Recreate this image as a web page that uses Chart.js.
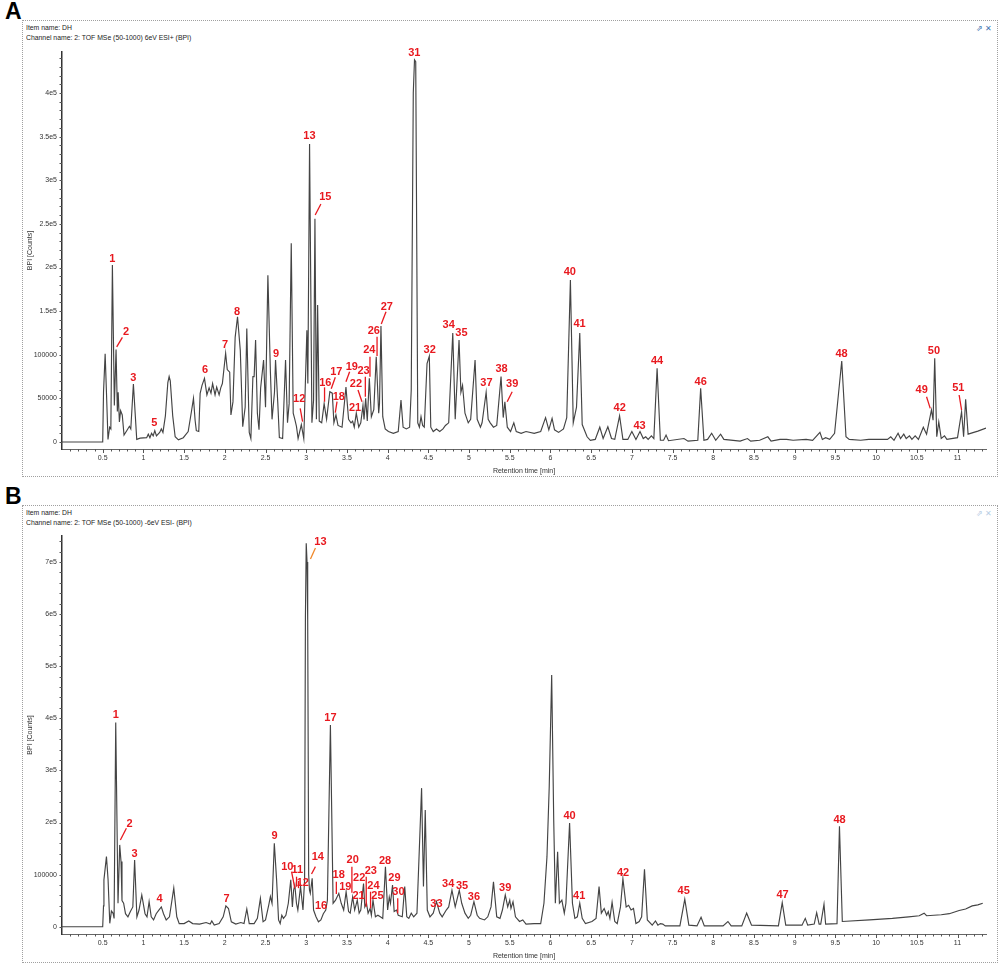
<!DOCTYPE html>
<html><head><meta charset="utf-8">
<script src="https://cdn.jsdelivr.net/npm/chart.js@4.4.1/dist/chart.umd.min.js"></script>
<style>
body{margin:0;background:#fff;width:999px;height:963px;position:relative;overflow:hidden;font-family:"Liberation Sans",Arial,sans-serif;}
.frame{position:absolute;border:1px dotted #a0a0a0;box-sizing:border-box;}
.big{position:absolute;font:bold 23px "Liberation Sans",Arial,sans-serif;color:#000;line-height:23px;}
.hdr{position:absolute;font-size:7.6px;color:#222;line-height:10px;white-space:nowrap;transform:scaleX(0.9);transform-origin:left top;}
.ico{position:absolute;font-size:8px;white-space:nowrap;}
canvas{position:absolute;left:0;}
</style></head><body>
<div class="frame" style="left:22px;top:20px;width:976px;height:457px;"></div>
<div class="frame" style="left:22px;top:505px;width:976px;height:458px;"></div>
<div class="big" style="left:5px;top:0px;">A</div>
<div class="big" style="left:5px;top:485px;">B</div>
<div class="hdr" style="left:26px;top:23px;">Item name: DH<br>Channel name: 2: TOF MSe (50-1000) 6eV ESI+ (BPI)</div>
<div class="hdr" style="left:26px;top:508px;">Item name: DH<br>Channel name: 2: TOF MSe (50-1000) -6eV ESI- (BPI)</div>
<div class="ico" style="left:976px;top:24px;color:#3f74b0;">&#x21d7; &#x2715;</div>
<div class="ico" style="left:976px;top:509px;color:#b7cde4;">&#x21d7; &#x2715;</div>
<canvas id="cA" width="999" height="480" style="top:0px;"></canvas>
<canvas id="cB" width="999" height="478" style="top:485px;"></canvas>
<script>
// ---------- shared axis ticks ----------
const xTickVals = [0.5,1,1.5,2,2.5,3,3.5,4,4.5,5,5.5,6,6.5,7,7.5,8,8.5,9,9.5,10,10.5,11];

// ---------- Panel A: ESI+ ----------
const rtA = [0,0.5,0.51,0.53,0.545,0.565,0.585,0.6,0.619,0.643,0.664,0.68,0.69,0.705,0.72,0.74,0.762,0.795,0.828,0.845,0.877,0.918,0.96,1.04,1.06,1.08,1.10,1.12,1.14,1.16,1.20,1.22,1.24,1.27,1.30,1.316,1.33,1.36,1.39,1.43,1.49,1.55,1.59,1.615,1.635,1.65,1.68,1.697,1.72,1.75,1.78,1.807,1.83,1.85,1.88,1.90,1.93,1.95,1.97,2.01,2.03,2.06,2.075,2.10,2.127,2.156,2.19,2.22,2.25,2.27,2.30,2.32,2.345,2.36,2.378,2.40,2.42,2.44,2.476,2.50,2.529,2.56,2.58,2.61,2.623,2.65,2.67,2.71,2.746,2.77,2.79,2.816,2.84,2.86,2.88,2.90,2.94,2.97,3.008,3.02,3.041,3.07,3.09,3.107,3.125,3.14,3.16,3.19,3.22,3.25,3.29,3.32,3.34,3.365,3.39,3.44,3.488,3.52,3.55,3.57,3.59,3.615,3.645,3.67,3.697,3.71,3.73,3.75,3.775,3.80,3.83,3.86,3.89,3.90,3.918,3.94,3.97,4.01,4.07,4.13,4.164,4.19,4.23,4.27,4.29,4.315,4.33,4.345,4.37,4.39,4.41,4.43,4.45,4.484,4.512,4.53,4.56,4.60,4.64,4.68,4.71,4.75,4.80,4.83,4.877,4.90,4.92,4.95,4.99,5.02,5.074,5.10,5.14,5.16,5.21,5.235,5.26,5.30,5.34,5.393,5.42,5.44,5.47,5.51,5.55,5.58,5.64,5.70,5.80,5.88,5.94,5.98,6.02,6.05,6.10,6.16,6.20,6.245,6.28,6.32,6.36,6.39,6.45,6.49,6.55,6.606,6.647,6.705,6.75,6.79,6.849,6.89,6.95,7.0,7.05,7.10,7.14,7.17,7.2,7.24,7.27,7.31,7.35,7.39,7.42,7.45,7.64,7.69,7.81,7.845,7.885,7.93,7.98,8.03,8.09,8.13,8.33,8.42,8.46,8.57,8.67,8.71,8.82,8.90,8.98,9.14,9.22,9.31,9.34,9.38,9.43,9.49,9.578,9.63,9.67,9.81,9.91,10.01,10.14,10.18,10.22,10.27,10.30,10.34,10.37,10.41,10.44,10.48,10.52,10.58,10.62,10.68,10.70,10.72,10.745,10.77,10.80,10.84,10.87,11.00,11.05,11.075,11.10,11.13,11.20,11.25,11.35];
const bpiA = [0,0,57000,101000,60000,3000,17000,15000,203000,42000,106000,35000,57000,23000,36000,31000,8000,13000,18000,15000,66500,3000,4500,5000,9000,5000,10000,7000,13000,7000,11000,15000,11000,30000,68000,75000,70000,30000,6000,2500,5000,12000,35000,50000,25000,13000,12000,55800,65000,73000,54000,62000,56000,67000,54000,63000,54000,62000,67000,101700,83000,80000,31000,46000,120000,143600,105000,17500,40000,130000,11000,4000,75000,75000,117000,33000,14000,62000,94000,40000,191000,80000,26000,57000,94000,46000,5000,4000,94000,22000,44000,227700,33000,26000,18000,4000,20000,4000,128000,67000,341500,22000,48000,256000,26000,157000,24000,22000,44000,26000,57700,56000,22000,31000,19000,17000,63000,26000,22000,24000,17000,33000,17000,22000,42000,26000,50000,24000,73000,29000,37000,97800,33000,44000,133000,29000,15000,12000,10000,12000,48000,17000,15000,17000,60000,400000,438000,436000,22000,17000,29000,19000,17000,90000,98500,17000,12000,15000,12000,15000,19000,22000,125000,26000,117000,57000,65000,33000,22000,26000,94000,26000,17000,22000,57000,26000,22000,17000,19000,75000,28000,46000,17000,12000,22000,12000,10000,12000,10000,12000,28000,14000,27000,14000,11000,15000,28000,185700,22000,40000,125000,20000,6000,2000,3000,17000,4000,17500,4000,3000,30000,3000,3000,12000,3000,12000,4000,6000,3000,7000,4000,84400,2000,2000,8000,1500,4000,1000,2000,61500,2000,3000,10000,2000,9000,3000,1000,4000,1000,2000,6000,1000,3000,3000,2000,3000,2000,11000,3000,5000,3000,10000,92800,6000,3000,2000,3000,3000,3000,6000,2000,10000,4000,9000,4000,7000,3000,7000,3000,17000,9000,36700,25000,96000,6000,23000,4000,7000,3000,5000,34700,6000,49000,9000,11000,12500,16000];
const yTicksA = [0,50000,100000,150000,200000,250000,300000,350000,400000];
const yTickLabelsA = ['0','50000','100000','1.5e5','2e5','2.5e5','3e5','3.5e5','4e5'];
// peak labels: [number, retention time, intensity]
const peakLabelsA = [['1',0.619,210000],['2',0.787,126500],['3',0.877,73500],['5',1.135,22000],['6',1.758,83000],['7',2.004,111000],['8',2.15,149300],['9',2.63,101000],['12',2.914,49000],['13',3.04,351000],['15',3.234,280500],['16',3.234,68000],['17',3.37,80500],['18',3.40,52000],['19',3.56,86500],['21',3.60,38600],['22',3.61,66000],['23',3.705,81500],['24',3.775,105400],['26',3.83,127000],['27',3.99,155000],['31',4.328,445500],['32',4.516,105400],['34',4.75,134000],['35',4.906,125300],['37',5.213,67300],['38',5.40,83300],['39',5.53,66100],['40',6.237,195200],['41',6.357,135200],['42',6.85,39300],['43',7.095,18700],['44',7.31,92800],['46',7.845,69100],['48',9.575,100900],['49',10.56,59600],['50',10.71,104300],['51',11.01,61500]];
// leader lines: [number, rt1, int1, rt2, int2]
const leadersA = [['2',0.742,120000,0.672,109000],['12',2.926,38600,2.955,23300],['15',3.18,272800,3.11,260200],['16',3.225,62700,3.225,46200],['17',3.357,74200,3.307,61100],['18',3.378,46200,3.357,33600],['19',3.533,80600,3.488,69100],['22',3.636,59600,3.685,46200],['23',3.726,74800,3.726,51900],['24',3.783,97800,3.783,74800],['26',3.87,120700,3.87,98600],['27',3.98,149300,3.922,135200],['39',5.53,57700,5.468,46200],['49',10.62,51900,10.665,38600],['51',11.02,53900,11.05,36700]];

// ---------- Panel B: ESI- ----------
const rtB = [0,0.5,0.51,0.515,0.546,0.566,0.587,0.607,0.628,0.64,0.66,0.688,0.709,0.725,0.737,0.757,0.78,0.81,0.84,0.87,0.892,0.92,0.946,0.98,1.02,1.044,1.07,1.096,1.125,1.157,1.19,1.22,1.247,1.28,1.32,1.373,1.41,1.44,1.50,1.557,1.605,1.69,1.77,1.82,1.84,1.87,1.93,1.98,2.013,2.045,2.08,2.135,2.196,2.236,2.27,2.30,2.36,2.40,2.437,2.47,2.50,2.54,2.56,2.58,2.608,2.636,2.66,2.68,2.70,2.72,2.75,2.78,2.81,2.83,2.845,2.86,2.88,2.897,2.93,2.96,2.98,2.99,3.0,3.01,3.018,3.03,3.04,3.05,3.073,3.09,3.12,3.15,3.18,3.21,3.24,3.26,3.297,3.33,3.36,3.40,3.43,3.46,3.49,3.52,3.54,3.57,3.595,3.627,3.65,3.67,3.704,3.72,3.74,3.76,3.785,3.80,3.82,3.85,3.88,3.91,3.94,3.973,4.0,4.02,4.035,4.06,4.08,4.11,4.13,4.18,4.21,4.235,4.26,4.29,4.32,4.36,4.417,4.44,4.462,4.487,4.52,4.56,4.60,4.64,4.67,4.72,4.75,4.79,4.83,4.88,4.91,4.95,4.99,5.02,5.06,5.10,5.13,5.19,5.23,5.27,5.30,5.34,5.38,5.41,5.445,5.475,5.50,5.515,5.54,5.57,5.62,5.66,5.70,5.80,5.88,5.92,5.957,5.985,6.015,6.04,6.06,6.088,6.11,6.14,6.17,6.19,6.235,6.27,6.30,6.33,6.36,6.39,6.43,6.51,6.56,6.597,6.625,6.66,6.69,6.71,6.73,6.757,6.79,6.82,6.86,6.89,6.93,6.96,6.99,7.02,7.05,7.09,7.12,7.155,7.19,7.25,7.29,7.32,7.35,7.38,7.41,7.59,7.65,7.70,7.80,7.85,7.89,8.12,8.18,8.22,8.35,8.41,8.47,8.80,8.847,8.89,9.09,9.13,9.16,9.24,9.27,9.30,9.32,9.36,9.38,9.52,9.55,9.585,9.92,10.2,10.4,10.53,10.59,10.62,10.8,10.9,11.02,11.1,11.18,11.25,11.31];
const bpiB = [0,0,40000,90000,134500,90000,6500,30000,25700,16000,392000,45000,157000,125000,50000,45000,25000,19000,29000,38000,128000,19000,32000,61000,25000,19000,48000,19000,13000,25000,32000,38000,25000,13000,19000,74000,19000,6000,6000,11000,6000,5000,8000,5000,11000,3000,6000,19000,40000,35000,9500,5000,8000,6000,34000,6000,6000,16000,54500,9500,13000,42000,58000,45000,160000,90000,13000,6000,22000,16000,22000,45000,90000,38000,70000,80000,45000,32000,77000,32000,90000,595000,736000,700000,590000,100000,70000,64000,93000,32000,19000,9500,13000,25000,32000,51000,387000,45000,51000,64000,45000,32000,67000,29000,26000,57000,32000,51000,26000,32000,83000,38000,45000,26000,35000,22000,51000,19000,22000,19000,16000,115000,32000,57000,45000,80000,29000,32000,22000,19000,77000,19000,16000,26000,19000,26000,266000,77000,224000,32000,19000,26000,48000,26000,19000,32000,38000,70000,38000,70000,45000,26000,16000,22000,48000,22000,16000,13000,19000,38000,86000,19000,16000,32000,61000,38000,51000,35000,48000,19000,10000,13000,5000,6000,6000,45000,134000,269000,483000,205000,45000,144000,45000,51000,26000,45000,199000,45000,16000,19000,45000,16000,6000,10000,16000,77000,26000,35000,22000,29000,16000,47000,10000,6000,38000,92000,38000,41000,32000,35000,6000,10000,19000,110000,13000,3000,11000,3000,6000,5000,1500,1500,53000,3000,1500,18000,1500,1500,10000,1500,1500,26000,3000,1500,46000,3000,3000,16000,3000,5000,27000,5000,5000,43000,5000,6000,193000,10000,13000,16000,19000,21000,26000,21000,23000,25000,31000,34000,40000,42000,45000];
const yTicksB = [0,100000,200000,300000,400000,500000,600000,700000];
const yTickLabelsB = ['0','100000','2e5','3e5','4e5','5e5','6e5','7e5'];
const peakLabelsB = [['1',0.66,406600],['2',0.831,197300],['3',0.892,139600],['4',1.198,53200],['7',2.021,53200],['9',2.612,174200],['10',2.767,115300],['11',2.889,108900],['12',2.958,83400],['13',3.175,739500],['14',3.142,134500],['16',3.182,39800],['17',3.297,400300],['18',3.399,99300],['19',3.48,76800],['20',3.57,128100],['21',3.643,59500],['22',3.651,94100],['23',3.793,107000],['24',3.826,78800],['25',3.875,59000],['28',3.969,126200],['29',4.083,93000],['30',4.132,66100],['33',4.60,43000],['34',4.743,81400],['35',4.914,78200],['36',5.06,57000],['39',5.444,73800],['40',6.235,212600],['41',6.353,59500],['42',6.891,103700],['45',7.637,68600],['47',8.851,60300],['48',9.551,205000]];
const leadersB = [['2',0.791,189000,0.717,166500],['10',2.82,105600,2.86,73800],['11',2.881,96000,2.881,76800],['12',2.905,88000,2.905,74000],['13',3.113,726800,3.052,705700],['14',3.113,115300,3.065,101200],['18',3.37,86400,3.37,62800],['20',3.561,115300,3.561,65300],['23',3.737,96000,3.737,38400],['24',3.79,67200,3.79,35300],['30',4.124,54600,4.124,25700]];

// ---------- drawing ----------
const TXT = '#333';
const SMALL = {family:'"Liberation Sans", Arial, sans-serif', size:7};
function decorPlugin(labels, leaders, yMinor, specialLeader) {
  return {
    id: 'decor',
    afterDraw(chart) {
      const {ctx, scales:{x, y}, chartArea:a} = chart;
      ctx.save();
      ctx.strokeStyle = '#555'; ctx.lineWidth = 1;
      for (let i = 1; i / 10 <= x.max + 1e-9; i++) {
        const px = Math.round(x.getPixelForValue(i / 10)) + 0.5;
        const len = (i % 5 === 0) ? 4 : 2.5;
        ctx.beginPath(); ctx.moveTo(px, a.bottom); ctx.lineTo(px, a.bottom + len); ctx.stroke();
      }
      for (let v = 0; v <= y.max; v += yMinor) {
        const py = Math.round(y.getPixelForValue(v)) + 0.5;
        ctx.beginPath(); ctx.moveTo(a.left, py); ctx.lineTo(a.left - 2.5, py); ctx.stroke();
      }
      ctx.lineWidth = 1.3;
      leaders.forEach(l => {
        ctx.strokeStyle = (l[0] === specialLeader) ? '#f0882a' : '#e8191f';
        ctx.beginPath();
        ctx.moveTo(x.getPixelForValue(l[1]), y.getPixelForValue(l[2]));
        ctx.lineTo(x.getPixelForValue(l[3]), y.getPixelForValue(l[4]));
        ctx.stroke();
      });
      ctx.fillStyle = '#e8191f';
      ctx.font = 'bold 11px "Liberation Sans", Arial, sans-serif';
      ctx.textAlign = 'center'; ctx.textBaseline = 'middle';
      labels.forEach(l => ctx.fillText(l[0], x.getPixelForValue(l[1]), y.getPixelForValue(l[2])));
      ctx.restore();
    }
  };
}
function makeChart(id, rt, bpi, yTicks, yTickLabels, yMin, yMax, yMinor, labels, leaders, padTop, xHeight, titlePad, special) {
  return new Chart(document.getElementById(id), {
    type: 'line',
    data: { datasets: [{ data: rt.map((t, i) => ({x: t, y: bpi[i]})), borderColor: '#444', borderWidth: 1.15, pointRadius: 0, tension: 0, fill: false }] },
    options: {
      responsive: false, animation: false, events: [],
      layout: { padding: {left: 0, right: 13, top: padTop, bottom: 0} },
      plugins: { legend: {display: false}, tooltip: {enabled: false} },
      scales: {
        x: {
          type: 'linear', min: 0, max: 11.35,
          afterBuildTicks: s => { s.ticks = xTickVals.map(v => ({value: v})); },
          afterFit: s => { s.height = xHeight; },
          ticks: { autoSkip: false, maxRotation: 0, padding: 5, color: TXT, font: SMALL, callback: v => String(v) },
          grid: { display: false, drawTicks: false },
          border: { display: true, color: '#666', width: 1 },
          title: { display: true, text: 'Retention time [min]', color: TXT, font: SMALL, padding: {top: 0, bottom: titlePad} }
        },
        y: {
          type: 'linear', min: yMin, max: yMax,
          afterBuildTicks: s => { s.ticks = yTicks.map(v => ({value: v})); },
          afterFit: s => { s.width = 62; },
          ticks: { autoSkip: false, padding: 5, color: TXT, font: SMALL, callback: (v, i) => yTickLabels[i] },
          grid: { display: false, drawTicks: false },
          border: { display: true, color: '#333', width: 1.5 },
          title: { display: true, text: 'BPI [Counts]', color: TXT, font: SMALL, padding: {top: 26, bottom: 0} }
        }
      }
    },
    plugins: [decorPlugin(labels, leaders, yMinor, special)]
  });
}
makeChart('cA', rtA, bpiA, yTicksA, yTickLabelsA, -8000, 447000, 10000, peakLabelsA, leadersA, 52, 31, 5, null);
makeChart('cB', rtB, bpiB, yTicksB, yTickLabelsB, -14000, 750000, 20000, peakLabelsB, leadersB, 51, 29, 3, '13');
</script>
</body></html>
